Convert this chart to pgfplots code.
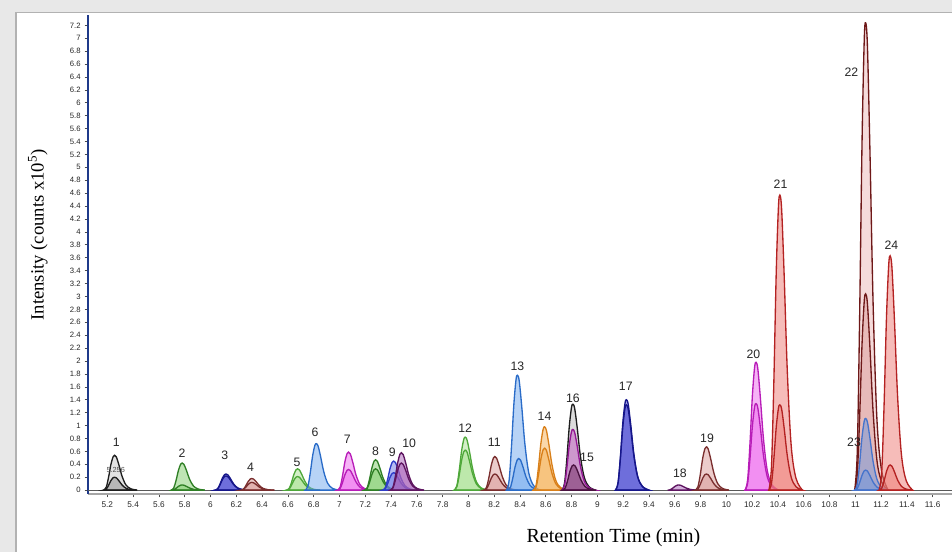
\documentclass[border=0pt]{standalone}
\usepackage{pgfplots}
\pgfplotsset{compat=1.18}
\usepackage{fontspec}
\setmainfont{Liberation Sans}
\newfontfamily\tnr{Liberation Serif}

\definecolor{kline}{HTML}{1E1E1E}
\definecolor{kfill}{HTML}{8C8C8C}
\definecolor{gline}{HTML}{2F7F25}
\definecolor{gfill}{HTML}{7FCC6A}
\definecolor{lgline}{HTML}{4FA83A}
\definecolor{lgfill}{HTML}{A8E090}
\definecolor{nline}{HTML}{16168A}
\definecolor{nfill}{HTML}{3F3FCF}
\definecolor{bline}{HTML}{7A2E2E}
\definecolor{bfill}{HTML}{D99A98}
\definecolor{cline}{HTML}{2A6CC8}
\definecolor{cfill}{HTML}{70A8EE}
\definecolor{mline}{HTML}{B81DB8}
\definecolor{mfill}{HTML}{EE6AEE}
\definecolor{vline}{HTML}{2E3CC8}
\definecolor{vfill}{HTML}{6C78E6}
\definecolor{pline}{HTML}{5E1560}
\definecolor{pfill}{HTML}{A860B8}
\definecolor{oline}{HTML}{D9801A}
\definecolor{ofill}{HTML}{F5B055}
\definecolor{dpline}{HTML}{4A1240}
\definecolor{dpfill}{HTML}{6E2A5E}
\definecolor{rline}{HTML}{B42222}
\definecolor{rfill}{HTML}{EE7A74}
\definecolor{drline}{HTML}{6E1818}
\definecolor{drfill}{HTML}{EBB8B8}
\definecolor{uline}{HTML}{4674CC}
\definecolor{ufill}{HTML}{6E96DC}
\definecolor{yaxis}{HTML}{1F3A8A}

\tikzset{
  pk/.style 2 args={draw=#1, fill=#2, fill opacity=0.5, line width=1pt, smooth, tension=0.55, mark=none},
  lbl/.style={font=\fontsize{9.2}{10}\selectfont, text=black!85},
}

\begin{document}
\begin{tikzpicture}
\useasboundingbox (0,0) rectangle (714pt,414pt);
\clip (0,0) rectangle (714pt,414pt);
% window frame of the screenshot
\fill[gray!18] (0,0) rectangle (11pt,414pt);
\fill[gray!18] (0,405pt) rectangle (714pt,414pt);
\draw[gray!60, line width=1pt] (12pt,0) -- (12pt,404.5pt) -- (714pt,404.5pt);

\begin{axis}[
  at={(66pt,43.5pt)}, anchor=south west,
  scale only axis,
  width=788.25pt, height=359.25pt,
  xmin=5.05, xmax=13.2,
  ymin=-0.06, ymax=7.36,
  axis x line*=bottom, axis y line*=left,
  x axis line style={-, draw=gray!70, line width=0.9pt},
  y axis line style={-, draw=yaxis, line width=2pt},
  xtick={5.2,5.4,5.6,5.8,6,6.2,6.4,6.6,6.8,7,7.2,7.4,7.6,7.8,8,8.2,8.4,8.6,8.8,9,9.2,9.4,9.6,9.8,10,10.2,10.4,10.6,10.8,11,11.2,11.4,11.6},
  ytick={0,0.2,0.4,0.6,0.8,1,1.2,1.4,1.6,1.8,2,2.2,2.4,2.6,2.8,3,3.2,3.4,3.6,3.8,4,4.2,4.4,4.6,4.8,5,5.2,5.4,5.6,5.8,6,6.2,6.4,6.6,6.8,7,7.2},
  tick align=outside,
  major tick length=2.5pt,
  tick style={black!70, line width=0.5pt},
  /pgf/number format/assume math mode=true,
  /pgf/number format/fixed,
  xticklabel style={font=\fontsize{6.2}{7}\selectfont, text=black!85, yshift=0.3pt},
  yticklabel style={font=\fontsize{5.8}{6}\selectfont, text=black!85, xshift=0.5pt},
  xlabel={\tnr Retention Time (min)},
  ylabel={\tnr Intensity (counts x10\textsuperscript{5})},
  xlabel style={at={(axis description cs:0.5,-0.092)}, anchor=center, font=\fontsize{15}{16}\selectfont},
  ylabel style={at={(axis description cs:-0.0476,0.541)}, anchor=center, font=\fontsize{14}{15}\selectfont},
]

% baseline
\addplot[black!65, line width=0.8pt] coordinates {(5.05,0) (13.2,0)};

% peak 1
\addplot[pk={kline}{kfill!50}] coordinates {(5.171,0) (5.191,0.043) (5.209,0.194) (5.228,0.400) (5.245,0.518) (5.256,0.54) (5.27,0.513) (5.29,0.389) (5.314,0.216) (5.344,0.081) (5.381,0.022) (5.431,0)} \closedcycle;
\addplot[pk={kline}{kfill}] coordinates {(5.171,0) (5.191,0.016) (5.209,0.072) (5.228,0.148) (5.245,0.192) (5.256,0.2) (5.27,0.19) (5.29,0.144) (5.314,0.08) (5.344,0.03) (5.381,0.008) (5.431,0)} \closedcycle;
% peak 2
\addplot[pk={gline}{gfill}] coordinates {(5.695,0) (5.715,0.034) (5.733,0.151) (5.752,0.311) (5.769,0.403) (5.78,0.42) (5.794,0.399) (5.814,0.302) (5.838,0.168) (5.868,0.063) (5.905,0.017) (5.955,0)} \closedcycle;
\addplot[pk={gline}{gfill}] coordinates {(5.695,0) (5.715,0.006) (5.733,0.029) (5.752,0.059) (5.769,0.077) (5.78,0.08) (5.794,0.076) (5.814,0.058) (5.838,0.032) (5.868,0.012) (5.905,0.003) (5.955,0)} \closedcycle;
% peak 3
\addplot[pk={nline}{nfill}] coordinates {(6.035,0) (6.055,0.02) (6.073,0.09) (6.092,0.185) (6.109,0.24) (6.12,0.25) (6.134,0.238) (6.154,0.18) (6.178,0.1) (6.208,0.038) (6.245,0.01) (6.295,0)} \closedcycle;
\addplot[pk={nline}{nfill}] coordinates {(6.035,0) (6.055,0.018) (6.073,0.079) (6.092,0.163) (6.109,0.211) (6.12,0.22) (6.134,0.209) (6.154,0.158) (6.178,0.088) (6.208,0.033) (6.245,0.009) (6.295,0)} \closedcycle;
% peak 4
\addplot[pk={bline}{bfill}] coordinates {(6.235,0) (6.255,0.014) (6.273,0.065) (6.292,0.133) (6.309,0.173) (6.32,0.18) (6.334,0.171) (6.354,0.13) (6.378,0.072) (6.408,0.027) (6.445,0.007) (6.495,0)} \closedcycle;
\addplot[pk={bline}{bfill}] coordinates {(6.235,0) (6.255,0.01) (6.273,0.043) (6.292,0.089) (6.309,0.115) (6.32,0.12) (6.334,0.114) (6.354,0.086) (6.378,0.048) (6.408,0.018) (6.445,0.005) (6.495,0)} \closedcycle;
% peak 5
\addplot[pk={lgline}{lgfill}] coordinates {(6.59,0) (6.61,0.026) (6.628,0.119) (6.647,0.244) (6.664,0.317) (6.675,0.33) (6.689,0.314) (6.709,0.238) (6.733,0.132) (6.763,0.05) (6.8,0.013) (6.85,0)} \closedcycle;
\addplot[pk={lgline}{lgfill}] coordinates {(6.59,0) (6.61,0.017) (6.628,0.076) (6.647,0.155) (6.664,0.202) (6.675,0.21) (6.689,0.2) (6.709,0.151) (6.733,0.084) (6.763,0.032) (6.8,0.008) (6.85,0)} \closedcycle;
% peak 6
\addplot[pk={cline}{cfill}] coordinates {(6.735,0) (6.755,0.058) (6.773,0.259) (6.792,0.533) (6.809,0.691) (6.82,0.72) (6.834,0.684) (6.854,0.518) (6.878,0.288) (6.908,0.108) (6.945,0.029) (6.995,0)} \closedcycle;
% peak 7
\addplot[pk={mline}{mfill}] coordinates {(6.985,0) (7.005,0.047) (7.023,0.212) (7.042,0.437) (7.059,0.566) (7.07,0.59) (7.084,0.561) (7.104,0.425) (7.128,0.236) (7.158,0.089) (7.195,0.024) (7.245,0)} \closedcycle;
\addplot[pk={mline}{mfill}] coordinates {(6.985,0) (7.005,0.026) (7.023,0.115) (7.042,0.237) (7.059,0.307) (7.07,0.32) (7.084,0.304) (7.104,0.23) (7.128,0.128) (7.158,0.048) (7.195,0.013) (7.245,0)} \closedcycle;
% peak 8
\addplot[pk={gline}{gfill}] coordinates {(7.195,0) (7.215,0.038) (7.233,0.169) (7.252,0.348) (7.269,0.451) (7.28,0.47) (7.294,0.447) (7.314,0.338) (7.338,0.188) (7.368,0.071) (7.405,0.019) (7.455,0)} \closedcycle;
\addplot[pk={gline}{gfill}] coordinates {(7.195,0) (7.215,0.026) (7.233,0.119) (7.252,0.244) (7.269,0.317) (7.28,0.33) (7.294,0.314) (7.314,0.238) (7.338,0.132) (7.368,0.05) (7.405,0.013) (7.455,0)} \closedcycle;
% peak 9
\addplot[pk={vline}{vfill}] coordinates {(7.335,0) (7.355,0.036) (7.373,0.162) (7.392,0.333) (7.409,0.432) (7.42,0.45) (7.434,0.428) (7.454,0.324) (7.478,0.18) (7.508,0.068) (7.545,0.018) (7.595,0)} \closedcycle;
\addplot[pk={vline}{vfill}] coordinates {(7.335,0) (7.355,0.022) (7.373,0.097) (7.392,0.2) (7.409,0.259) (7.42,0.27) (7.434,0.257) (7.454,0.194) (7.478,0.108) (7.508,0.041) (7.545,0.011) (7.595,0)} \closedcycle;
% peak 10
\addplot[pk={pline}{pfill}] coordinates {(7.395,0) (7.415,0.046) (7.433,0.209) (7.452,0.429) (7.469,0.557) (7.48,0.58) (7.494,0.551) (7.514,0.418) (7.538,0.232) (7.568,0.087) (7.605,0.023) (7.655,0)} \closedcycle;
\addplot[pk={pline}{pfill}] coordinates {(7.395,0) (7.415,0.034) (7.433,0.151) (7.452,0.311) (7.469,0.403) (7.48,0.42) (7.494,0.399) (7.514,0.302) (7.538,0.168) (7.568,0.063) (7.605,0.017) (7.655,0)} \closedcycle;
% peak 12
\addplot[pk={lgline}{lgfill}] coordinates {(7.89,0) (7.91,0.066) (7.928,0.295) (7.947,0.607) (7.964,0.787) (7.975,0.82) (7.989,0.779) (8.009,0.59) (8.033,0.328) (8.063,0.123) (8.1,0.033) (8.15,0)} \closedcycle;
\addplot[pk={lgline}{lgfill}] coordinates {(7.89,0) (7.91,0.05) (7.928,0.223) (7.947,0.459) (7.964,0.595) (7.975,0.62) (7.989,0.589) (8.009,0.446) (8.033,0.248) (8.063,0.093) (8.1,0.025) (8.15,0)} \closedcycle;
% peak 11
\addplot[pk={bline}{bfill}] coordinates {(8.12,0) (8.14,0.042) (8.158,0.187) (8.177,0.385) (8.194,0.499) (8.205,0.52) (8.219,0.494) (8.239,0.374) (8.263,0.208) (8.293,0.078) (8.33,0.021) (8.38,0)} \closedcycle;
\addplot[pk={bline}{bfill}] coordinates {(8.12,0) (8.14,0.02) (8.158,0.09) (8.177,0.185) (8.194,0.24) (8.205,0.25) (8.219,0.238) (8.239,0.18) (8.263,0.1) (8.293,0.038) (8.33,0.01) (8.38,0)} \closedcycle;
% peak 13
\addplot[pk={cline}{cfill}] coordinates {(8.295,0) (8.315,0.142) (8.333,0.641) (8.352,1.317) (8.369,1.709) (8.38,1.78) (8.394,1.691) (8.414,1.282) (8.438,0.712) (8.468,0.267) (8.505,0.071) (8.555,0)} \closedcycle;
\addplot[pk={cline}{cfill}] coordinates {(8.305,0) (8.325,0.039) (8.343,0.176) (8.362,0.363) (8.379,0.47) (8.39,0.49) (8.404,0.466) (8.424,0.353) (8.448,0.196) (8.478,0.074) (8.515,0.02) (8.565,0)} \closedcycle;
% peak 14
\addplot[pk={oline}{ofill}] coordinates {(8.505,0) (8.525,0.078) (8.543,0.353) (8.562,0.725) (8.579,0.941) (8.59,0.98) (8.604,0.931) (8.624,0.706) (8.648,0.392) (8.678,0.147) (8.715,0.039) (8.765,0)} \closedcycle;
\addplot[pk={oline}{ofill}] coordinates {(8.505,0) (8.525,0.052) (8.543,0.234) (8.562,0.481) (8.579,0.624) (8.59,0.65) (8.604,0.618) (8.624,0.468) (8.648,0.26) (8.678,0.098) (8.715,0.026) (8.765,0)} \closedcycle;
% peaks 16 / 15
\addplot[pk={kline}{kfill!60}] coordinates {(8.725,0) (8.745,0.106) (8.763,0.479) (8.782,0.984) (8.799,1.277) (8.81,1.33) (8.824,1.264) (8.844,0.958) (8.868,0.532) (8.898,0.2) (8.935,0.053) (8.985,0)} \closedcycle;
\addplot[pk={mline!80!black}{mfill!80!black}] coordinates {(8.725,0) (8.745,0.075) (8.763,0.338) (8.782,0.696) (8.799,0.902) (8.81,0.94) (8.824,0.893) (8.844,0.677) (8.868,0.376) (8.898,0.141) (8.935,0.038) (8.985,0)} \closedcycle;
\addplot[pk={dpline}{dpfill}] coordinates {(8.73,0) (8.75,0.031) (8.768,0.14) (8.787,0.289) (8.804,0.374) (8.815,0.39) (8.829,0.371) (8.849,0.281) (8.873,0.156) (8.903,0.059) (8.94,0.016) (8.99,0)} \closedcycle;
% peak 17
\addplot[pk={nline}{nfill}] coordinates {(9.14,0) (9.16,0.112) (9.178,0.504) (9.197,1.036) (9.214,1.344) (9.225,1.40) (9.239,1.33) (9.259,1.008) (9.283,0.56) (9.313,0.21) (9.35,0.056) (9.4,0)} \closedcycle;
\addplot[pk={nline}{nfill}] coordinates {(9.14,0) (9.16,0.106) (9.178,0.475) (9.197,0.977) (9.214,1.267) (9.225,1.32) (9.239,1.254) (9.259,0.95) (9.283,0.528) (9.313,0.198) (9.35,0.053) (9.4,0)} \closedcycle;
% peak 18
\addplot[pk={pline}{pfill}] coordinates {(9.545,0) (9.565,0.006) (9.583,0.029) (9.602,0.059) (9.619,0.077) (9.63,0.08) (9.644,0.076) (9.664,0.058) (9.688,0.032) (9.718,0.012) (9.755,0.003) (9.805,0)} \closedcycle;
% peak 19
\addplot[pk={bline}{bfill}] coordinates {(9.76,0) (9.78,0.054) (9.798,0.241) (9.817,0.496) (9.834,0.643) (9.845,0.67) (9.859,0.637) (9.879,0.482) (9.903,0.268) (9.933,0.101) (9.97,0.027) (10.02,0)} \closedcycle;
\addplot[pk={bline}{bfill}] coordinates {(9.76,0) (9.78,0.02) (9.798,0.09) (9.817,0.185) (9.834,0.24) (9.845,0.25) (9.859,0.238) (9.879,0.18) (9.903,0.1) (9.933,0.038) (9.97,0.01) (10.02,0)} \closedcycle;
% peak 20
\addplot[pk={mline}{mfill}] coordinates {(10.145,0) (10.165,0.158) (10.183,0.713) (10.202,1.465) (10.219,1.901) (10.23,1.98) (10.244,1.881) (10.264,1.426) (10.288,0.792) (10.318,0.297) (10.355,0.079) (10.405,0)} \closedcycle;
\addplot[pk={mline}{mfill}] coordinates {(10.145,0) (10.165,0.107) (10.183,0.482) (10.202,0.992) (10.219,1.286) (10.23,1.34) (10.244,1.273) (10.264,0.965) (10.288,0.536) (10.318,0.201) (10.355,0.054) (10.405,0)} \closedcycle;
% peak 21
\addplot[pk={rline}{rfill}] coordinates {(10.33,0) (10.35,0.366) (10.368,1.645) (10.387,3.382) (10.404,4.387) (10.415,4.57) (10.429,4.342) (10.449,3.29) (10.473,1.828) (10.503,0.686) (10.54,0.183) (10.59,0)} \closedcycle;
\addplot[pk={rline}{rfill}] coordinates {(10.33,0) (10.35,0.106) (10.368,0.475) (10.387,0.977) (10.404,1.267) (10.415,1.32) (10.429,1.254) (10.449,0.95) (10.473,0.528) (10.503,0.198) (10.54,0.053) (10.59,0)} \closedcycle;
% peak 22 / 23
\addplot[pk={drline}{drfill}] coordinates {(10.995,0) (11.015,0.579) (11.033,2.606) (11.052,5.358) (11.069,6.95) (11.08,7.24) (11.094,6.878) (11.114,5.213) (11.138,2.896) (11.168,1.086) (11.205,0.29) (11.255,0)} \closedcycle;
\addplot[pk={drline}{bfill}] coordinates {(10.995,0) (11.015,0.243) (11.033,1.094) (11.052,2.25) (11.069,2.918) (11.08,3.04) (11.094,2.888) (11.114,2.189) (11.138,1.216) (11.168,0.456) (11.205,0.122) (11.255,0)} \closedcycle;
\addplot[pk={uline}{ufill}] coordinates {(10.995,0) (11.015,0.089) (11.033,0.4) (11.052,0.821) (11.069,1.066) (11.08,1.11) (11.094,1.055) (11.114,0.799) (11.138,0.444) (11.168,0.167) (11.205,0.044) (11.255,0)} \closedcycle;
\addplot[pk={uline}{ufill}] coordinates {(10.995,0) (11.015,0.025) (11.033,0.112) (11.052,0.229) (11.069,0.298) (11.08,0.31) (11.094,0.295) (11.114,0.223) (11.138,0.124) (11.168,0.047) (11.205,0.012) (11.255,0)} \closedcycle;
% peak 24
\addplot[pk={rline}{rfill}] coordinates {(11.185,0) (11.205,0.29) (11.223,1.307) (11.242,2.686) (11.259,3.485) (11.27,3.63) (11.284,3.449) (11.304,2.614) (11.328,1.452) (11.358,0.545) (11.395,0.145) (11.445,0)} \closedcycle;
\addplot[pk={rline}{rfill}] coordinates {(11.185,0) (11.205,0.031) (11.223,0.14) (11.242,0.289) (11.259,0.374) (11.27,0.39) (11.284,0.371) (11.304,0.281) (11.328,0.156) (11.358,0.059) (11.395,0.016) (11.445,0)} \closedcycle;

% peak numbers
\node[lbl] at (axis cs:5.27,0.74) {1};
\node[font=\fontsize{5.5}{6}\selectfont, text=black!70] at (axis cs:5.265,0.31) {5.256};
\node[lbl] at (axis cs:5.78,0.57) {2};
\node[lbl] at (axis cs:6.11,0.54) {3};
\node[lbl] at (axis cs:6.31,0.36) {4};
\node[lbl] at (axis cs:6.67,0.43) {5};
\node[lbl] at (axis cs:6.81,0.90) {6};
\node[lbl] at (axis cs:7.06,0.79) {7};
\node[lbl] at (axis cs:7.28,0.60) {8};
\node[lbl] at (axis cs:7.41,0.59) {9};
\node[lbl] at (axis cs:7.54,0.73) {10};
\node[lbl] at (axis cs:7.975,0.96) {12};
\node[lbl] at (axis cs:8.2,0.74) {11};
\node[lbl] at (axis cs:8.38,1.92) {13};
\node[lbl] at (axis cs:8.59,1.15) {14};
\node[lbl] at (axis cs:8.81,1.43) {16};
\node[lbl] at (axis cs:8.92,0.51) {15};
\node[lbl] at (axis cs:9.22,1.61) {17};
\node[lbl] at (axis cs:9.64,0.26) {18};
\node[lbl] at (axis cs:9.85,0.81) {19};
\node[lbl] at (axis cs:10.21,2.11) {20};
\node[lbl] at (axis cs:10.42,4.74) {21};
\node[lbl] at (axis cs:10.97,6.48) {22};
\node[lbl] at (axis cs:10.99,0.74) {23};
\node[lbl] at (axis cs:11.28,3.80) {24};
\end{axis}
\end{tikzpicture}
\end{document}
